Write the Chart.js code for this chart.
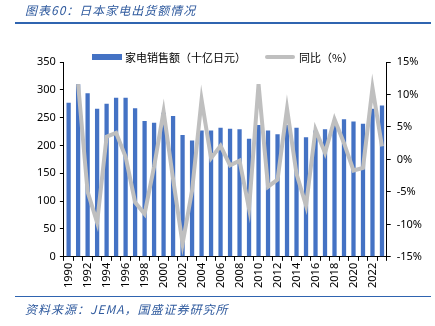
<!DOCTYPE html>
<html>
<head>
<meta charset="utf-8">
<script src="https://cdn.jsdelivr.net/npm/chart.js@4.4.1/dist/chart.umd.min.js"></script>
<style>
  html, body { margin: 0; padding: 0; background: #fff; }
  #wrap { position: relative; width: 435px; height: 326px; overflow: hidden; font-family: "Noto Sans CJK SC", "Noto Sans", sans-serif; }
  #title { position: absolute; left: 25px; top: 1px; font-size: 12px; font-style: italic; color: #2f5a9e; letter-spacing: 1px; }
  #topline { position: absolute; left: 15px; right: 4px; top: 22px; height: 0; border-top: 2px solid #2f64b0; }
  #botline { position: absolute; left: 15px; right: 4px; top: 296px; height: 0; border-top: 1.5px solid #2f64b0; }
  #source { position: absolute; left: 25px; top: 300px; font-size: 12px; font-style: italic; color: #2f5a9e; letter-spacing: 1px; }
  #chartBox { position: absolute; left: 0; top: 0; width: 435px; height: 326px; }
  .lg-box { position: absolute; width: 30px; }
  .lg-text { position: absolute; font-size: 11px; line-height: 14px; color: #000; white-space: nowrap; }
</style>
</head>
<body>
<div id="wrap">
  <div id="chartBox"><canvas id="barChart" width="435" height="326"></canvas></div>
  <div id="title">图表60：日本家电出货额情况</div>
  <div id="topline"></div>
  <div class="lg-box" id="lgBox0" style="left:92px; top:54px; height:6px;"></div>
  <div class="lg-text" id="lgText0" style="left:125px; top:50px;"></div>
  <div class="lg-box" id="lgBox1" style="left:265px; top:55px; height:4px; border-radius:2px;"></div>
  <div class="lg-text" id="lgText1" style="left:299px; top:50px;"></div>
  <div id="botline"></div>
  <div id="source">资料来源：JEMA，国盛证券研究所</div>
</div>
<script>
  // years on x axis
  var years = ["1990","1991","1992","1993","1994","1995","1996","1997","1998","1999",
    "2000","2001","2002","2003","2004","2005","2006","2007","2008","2009",
    "2010","2011","2012","2013","2014","2015","2016","2017","2018","2019",
    "2020","2021","2022","2023"];
  // 家电销售额（十亿日元）
  var salesData = [277, 310, 294, 266, 275, 286, 286, 267, 244, 241,
    259, 253, 219, 209, 227, 227, 232, 230, 229, 212,
    237, 227, 220, 237, 232, 215, 227, 229, 237, 247,
    243, 239, 266, 272];
  // 同比（%）
  var yoyData = [null, 11.6, -5.0, -9.7, 3.5, 4.1, 0.4, -6.6, -8.4, -1.1,
    7.4, -3.0, -13.0, -4.8, 9.2, 0.2, 2.1, -0.9, -0.2, -7.6,
    11.6, -4.2, -3.1, 7.8, -2.2, -7.1, 4.6, 1.0, 6.2, 2.5,
    -1.7, -1.3, 11.0, 2.0];

  var colorBar = '#4472c4';
  var colorLine = '#bfbfbf';
  var tickFont = { family: '"Noto Sans", "Noto Sans CJK SC", sans-serif', size: 11 };

  Chart.defaults.color = '#000';

  var ctx = document.getElementById("barChart").getContext("2d");
  var chart = new Chart(ctx, {
    type: 'bar',
    data: {
      labels: years,
      datasets: [
        {
          type: 'bar',
          label: '家电销售额（十亿日元）',
          data: salesData,
          backgroundColor: colorBar,
          yAxisID: 'y',
          barPercentage: 0.45,
          categoryPercentage: 1.0,
          order: 1
        },
        {
          type: 'line',
          label: '同比（%）',
          data: yoyData,
          borderColor: colorLine,
          backgroundColor: colorLine,
          borderWidth: 4,
          pointRadius: 0,
          tension: 0,
          yAxisID: 'y1',
          order: 0
        }
      ]
    },
    options: {
      responsive: false,
      animation: false,
      devicePixelRatio: 1,
      layout: { padding: { top: 62, left: 33, right: 7, bottom: 36 } },
      plugins: {
        tooltip: { enabled: false },
        legend: { display: false }
      },
      scales: {
        x: {
          offset: true,
          grid: { display: true, drawOnChartArea: false, drawTicks: true, tickLength: 4, color: '#000', offset: true },
          border: { color: '#000', width: 1 },
          ticks: {
            autoSkip: false,
            maxRotation: 90,
            minRotation: 90,
            padding: 2,
            font: tickFont,
            callback: function(v, i) { return i % 2 === 0 ? years[i] : ''; }
          }
        },
        y: {
          position: 'left',
          min: 0, max: 350,
          grid: { drawOnChartArea: false, tickLength: 4, color: '#000' },
          border: { color: '#000', width: 1 },
          ticks: { stepSize: 50, font: tickFont, padding: 4 }
        },
        y1: {
          position: 'right',
          min: -15, max: 15,
          grid: { drawOnChartArea: false, tickLength: 4, color: '#000' },
          border: { color: '#000', width: 1 },
          ticks: { stepSize: 5, font: tickFont, padding: 6, callback: function(v) { return v + '%'; } }
        }
      }
    }
  });

  // legend built from the chart's own datasets
  chart.data.datasets.forEach(function(ds, i) {
    document.getElementById('lgBox' + i).style.background = ds.backgroundColor;
    document.getElementById('lgText' + i).textContent = ds.label;
  });
</script>
</body>
</html>
